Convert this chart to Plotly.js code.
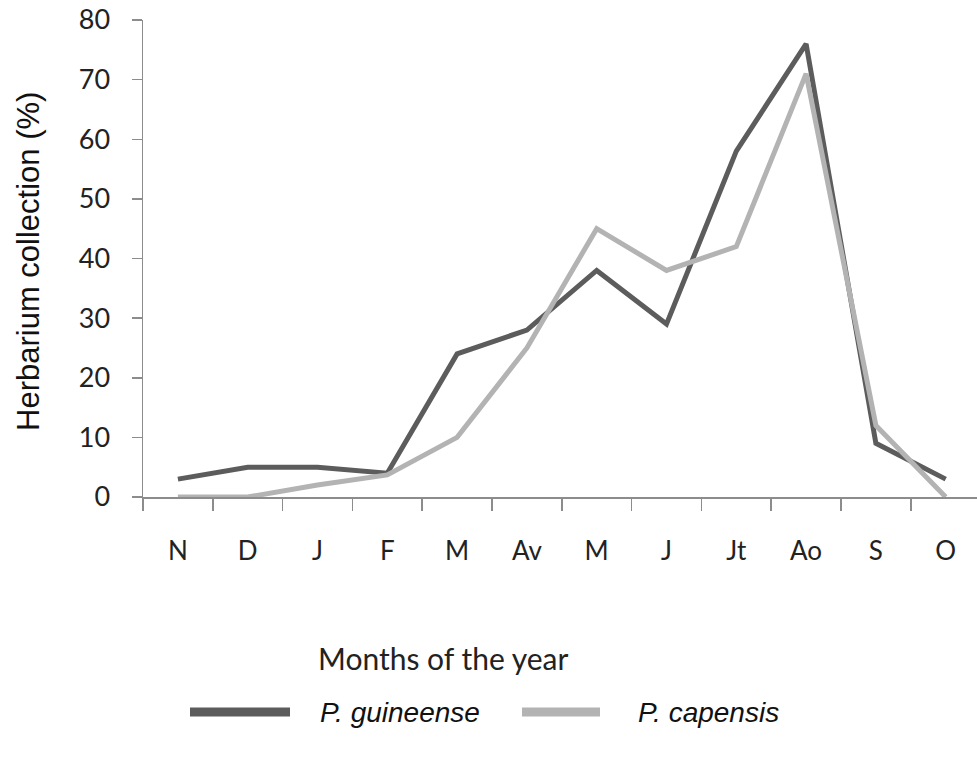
<!DOCTYPE html>
<html>
<head>
<meta charset="utf-8">
<script src="https://cdn.plot.ly/plotly-3.0.1.min.js"></script>
<style>html,body{margin:0;padding:0;background:#fff;}#chart{width:977px;height:759px;}</style>
</head>
<body>
<div id="chart"></div>
<script>
const months = ["N", "D", "J", "F", "M", "Av", "M", "J", "Jt", "Ao", "S", "O"];
const guineense = [3, 5, 5, 4, 24, 28, 38, 29, 58, 76, 9, 3];
const capensis = [0, 0, 2, 3.7, 10, 25, 45, 38, 42, 71, 12, 0];
const seriesNames = ["P. guineense", "P. capensis"];
const yTitle = "Herbarium collection (%)";
const xTitle = "Months of the year";

const idx = months.map((m, i) => i);
const darkColor = "#5c5c5c";
const lightColor = "#b3b3b3";
const axisColor = "#8c8c8c";
const calibriLike = "Lato, 'Open Sans', sans-serif";
const arialLike = "'Liberation Sans', Arial, sans-serif";

const traces = [
  {x: idx, y: guineense, name: seriesNames[0], mode: "lines", line: {color: darkColor, width: 5}},
  {x: idx, y: capensis, name: seriesNames[1], mode: "lines", line: {color: lightColor, width: 5}}
];

// pixel helpers relative to plot area (l=143, t=20, w=834, h=477)
const L = 143, T = 20, W = 834, H = 477;
const px = x => (x - L) / W;
const py = y => (T + H - y) / H;

const layout = {
  width: 977, height: 759,
  margin: {l: L, r: 977 - L - W, t: T, b: 759 - T - H},
  paper_bgcolor: "#fff", plot_bgcolor: "#fff",
  showlegend: false,
  xaxis: {
    range: [-0.5, -0.5 + W / 69.8],
    tickmode: "array", tickvals: idx, ticktext: months,
    ticks: "", showgrid: false, zeroline: false,
    showline: true, linecolor: axisColor, linewidth: 1.5,
    tickfont: {family: calibriLike, size: 26, color: "#222"},
    ticklabelstandoff: 30,
    minor: {tick0: -0.5, dtick: 1, ticks: "outside", ticklen: 12, tickcolor: axisColor, tickwidth: 1.5, showgrid: false}
  },
  yaxis: {
    range: [0, 80], tickmode: "array", tickvals: [0,10,20,30,40,50,60,70,80],
    ticks: "outside", ticklen: 10, tickcolor: axisColor, tickwidth: 1.5,
    showgrid: false, zeroline: false,
    showline: true, linecolor: axisColor, linewidth: 1.5,
    tickfont: {family: calibriLike, size: 27, color: "#222"},
    ticklabelstandoff: 16
  },
  shapes: [
    {type: "line", xref: "paper", yref: "paper", x0: px(190), x1: px(290), y0: py(712), y1: py(712), line: {color: darkColor, width: 9}},
    {type: "line", xref: "paper", yref: "paper", x0: px(522), x1: px(600), y0: py(712), y1: py(712), line: {color: lightColor, width: 9}}
  ],
  annotations: [
    {text: yTitle, xref: "paper", yref: "paper", x: px(28), y: py(262), xanchor: "center", yanchor: "middle", textangle: -90, showarrow: false, font: {family: arialLike, size: 31, color: "#111"}},
    {text: xTitle, xref: "paper", yref: "paper", x: px(443), y: py(658), xanchor: "center", yanchor: "middle", showarrow: false, font: {family: calibriLike, size: 30, color: "#222"}},
    {text: "<i>" + seriesNames[0] + "</i>", xref: "paper", yref: "paper", x: px(318), y: py(712), xanchor: "left", yanchor: "middle", showarrow: false, font: {family: arialLike, size: 28, color: "#111"}},
    {text: "<i>" + seriesNames[1] + "</i>", xref: "paper", yref: "paper", x: px(636), y: py(712), xanchor: "left", yanchor: "middle", showarrow: false, font: {family: arialLike, size: 28, color: "#111"}}
  ]
};

Plotly.newPlot("chart", traces, layout, {staticPlot: true, displayModeBar: false});
</script>
</body>
</html>
